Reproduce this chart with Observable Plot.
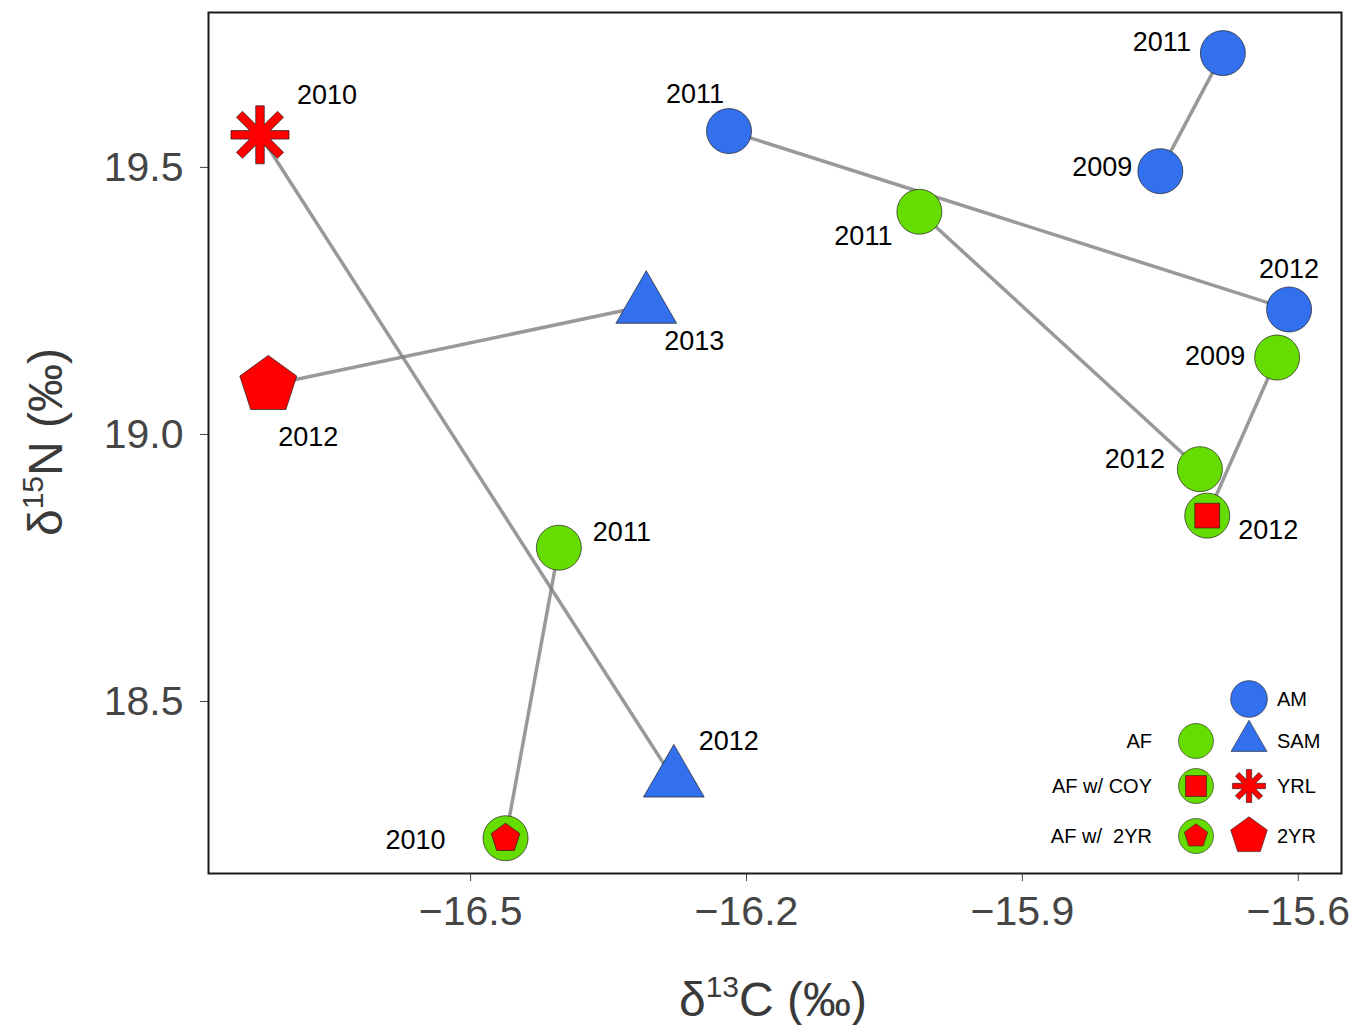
<!DOCTYPE html>
<html>
<head>
<meta charset="utf-8">
<script src="https://cdn.jsdelivr.net/npm/d3@7"></script>
<script src="https://cdn.jsdelivr.net/npm/@observablehq/plot@0.6"></script>
<style>
  html, body { margin: 0; padding: 0; background: #ffffff; }
  #chart { width: 1359px; height: 1025px; }
</style>
</head>
<body>
<div id="chart"></div>
<script>
// ---------------- DATA ----------------
const bear     = ["A", "A", "B", "B", "C", "C", "D", "D", "E", "E", "F", "F", "G", "G"];
const ageClass = ["AM", "AM", "AM", "AM", "AF", "AF", "AF", "AF w/ COY", "YRL", "SAM", "2YR", "SAM", "AF", "AF w/ 2YR"];
const year     = ["2009", "2011", "2011", "2012", "2011", "2012", "2009", "2012", "2010", "2012", "2012", "2013", "2011", "2010"];
const d13C     = [-15.750, -15.682, -16.219, -15.610, -16.012, -15.707, -15.623, -15.699, -16.729, -16.279, -16.720, -16.309, -16.404, -16.462];
const d15N     = [19.493, 19.714, 19.568, 19.234, 19.417, 18.935, 19.144, 18.848, 19.561, 18.354, 19.092, 19.241, 18.788, 18.244];

const classes     = ["AM", "AF", "AF w/ COY", "AF w/ 2YR", "SAM", "YRL", "2YR"];
const classFill   = ["#3370EE", "#66DD00", "#66DD00", "#66DD00", "#3370EE", "#FF0000", "#FF0000"];
const xTicks = [-16.5, -16.2, -15.9, -15.6];
const yTicks = [18.5, 19.0, 19.5];

// ---------------- LAYOUT / STYLE ----------------
const FONT = "'Liberation Sans', Arial, Helvetica, sans-serif";
const R = 22.5;
const OUTLINE = "#1f1f1f";
// pixel nudges for year labels (layout only)
const labelNudge = [
  [-58, -4], [-61, -11], [-34, -37], [0, -40], [-56, 25], [-65, -10], [-62, -1],
  [61, 15], [67, -39], [55, -38], [40, 52], [48, 36], [63, -15], [-90, 2]
];

const points = bear.map((b, i) => ({ bear: b, cls: ageClass[i], year: year[i], x: d13C[i], y: d15N[i] }));

// custom symbols (size = pi r^2)
const rad = size => Math.sqrt(size / Math.PI);
const triangleSym = k => ({ draw(ctx, size) {
  const r = rad(size), s = k * r, h = s * Math.sqrt(3) / 2;
  ctx.moveTo(0, -2 * h / 3); ctx.lineTo(s / 2, h / 3); ctx.lineTo(-s / 2, h / 3); ctx.closePath();
}});
const pentagonSym = k => ({ draw(ctx, size) {
  const Rr = k * rad(size);
  for (let j = 0; j < 5; j++) {
    const a = -Math.PI / 2 + j * 2 * Math.PI / 5;
    const px = Rr * Math.cos(a), py = Rr * Math.sin(a);
    if (j === 0) ctx.moveTo(px, py); else ctx.lineTo(px, py);
  }
  ctx.closePath();
}});
const squareSym = k => ({ draw(ctx, size) {
  const h = k * rad(size);
  ctx.moveTo(-h, -h); ctx.lineTo(h, -h); ctx.lineTo(h, h); ctx.lineTo(-h, h); ctx.closePath();
}});
const circleSym = k => ({ draw(ctx, size) {
  const r = k * rad(size);
  ctx.moveTo(r, 0); ctx.arc(0, 0, r, 0, 2 * Math.PI); ctx.closePath();
}});
const asteriskSym = (kL, kW) => ({ draw(ctx, size) {
  const r = rad(size), L = kL * r, w = kW * r, ri = w / Math.sin(Math.PI / 8);
  for (let k = 0; k < 8; k++) {
    const t = k * Math.PI / 4;
    const c = Math.cos(t), s = Math.sin(t);
    const p1 = [L * c + w * s, L * s - w * c];
    const p2 = [L * c - w * s, L * s + w * c];
    if (k === 0) ctx.moveTo(p1[0], p1[1]); else ctx.lineTo(p1[0], p1[1]);
    ctx.lineTo(p2[0], p2[1]);
    const ti = t + Math.PI / 8;
    ctx.lineTo(ri * Math.cos(ti), ri * Math.sin(ti));
  }
  ctx.closePath();
}});

const isCircle = d => ["AM", "AF", "AF w/ COY", "AF w/ 2YR"].includes(d.cls);
const dotCommon = { x: "x", y: "y", r: R, stroke: OUTLINE, strokeWidth: 0.7 };

const labelMarks = points.map((p, i) => Plot.text([p], {
  x: "x", y: "y", text: "year", dx: labelNudge[i][0], dy: labelNudge[i][1],
  fontSize: 27, fill: "#000000", textAnchor: "middle", lineAnchor: "middle", fontFamily: FONT
}));

const plot = Plot.plot({
  width: 1359,
  height: 1025,
  marginLeft: 208,
  marginRight: 18,
  marginTop: 12,
  marginBottom: 152,
  style: { fontFamily: FONT, fontSize: "41px", color: "#454545", background: "#ffffff" },
  x: { domain: [-16.785, -15.553], ticks: xTicks, tickFormat: d3.format(".1f"), tickSize: 8, tickPadding: 14, label: null },
  y: { domain: [18.178, 19.790], ticks: yTicks, tickFormat: d3.format(".1f"), tickSize: 8, tickPadding: 17, label: null },
  color: { type: "ordinal", domain: classes, range: classFill },
  marks: [
    Plot.line(points, { x: "x", y: "y", z: "bear", stroke: "#808080", strokeOpacity: 0.8, strokeWidth: 3.5 }),
    Plot.dot(points, { ...dotCommon, filter: isCircle, fill: "cls", symbol: "circle" }),
    Plot.dot(points, { ...dotCommon, filter: d => d.cls === "SAM", fill: "cls", symbol: triangleSym(2.7) }),
    Plot.dot(points, { ...dotCommon, filter: d => d.cls === "YRL", fill: "cls", symbol: asteriskSym(1.29, 0.19) }),
    Plot.dot(points, { ...dotCommon, filter: d => d.cls === "2YR", fill: "cls", symbol: pentagonSym(1.33) }),
    Plot.dot(points, { ...dotCommon, filter: d => d.cls === "AF w/ COY", fill: "#FF0000", symbol: squareSym(0.55) }),
    Plot.dot(points, { ...dotCommon, filter: d => d.cls === "AF w/ 2YR", fill: "#FF0000", symbol: pentagonSym(0.67) }),
    ...labelMarks,
    Plot.frame({ stroke: "#1a1a1a", strokeWidth: 2 })
  ]
});

document.getElementById("chart").appendChild(plot);

// ---------------- AXIS TITLES ----------------
const svg = d3.select(plot);
const TITLE_COLOR = "#3a3a3a";

const xt = svg.append("text")
  .attr("x", 773).attr("y", 1016)
  .attr("text-anchor", "middle")
  .attr("font-family", FONT).attr("font-size", 48).attr("fill", TITLE_COLOR);
xt.append("tspan").text("δ");
xt.append("tspan").attr("font-size", 30).attr("dy", -19).text("13");
xt.append("tspan").attr("dy", 19).text("C (‰)");

const yt = svg.append("text")
  .attr("transform", "translate(62,442) rotate(-90)")
  .attr("text-anchor", "middle")
  .attr("font-family", FONT).attr("font-size", 48).attr("fill", TITLE_COLOR);
yt.append("tspan").text("δ");
yt.append("tspan").attr("font-size", 30).attr("dy", -19).text("15");
yt.append("tspan").attr("dy", 19).text("N (‰)");

// ---------------- LEGEND ----------------
const LR = 18;
const legendItems = [
  { label: "AM",          side: "right", row: 0, layers: [[circleSym(1.02), "#3370EE"]] },
  { label: "AF",          side: "left",  row: 1, layers: [[circleSym(0.97), "#66DD00"]] },
  { label: "SAM",         side: "right", row: 1, layers: [[triangleSym(2.0), "#3370EE"]] },
  { label: "AF w/ COY",   side: "left",  row: 2, layers: [[circleSym(0.97), "#66DD00"], [squareSym(0.58), "#FF0000"]] },
  { label: "YRL",         side: "right", row: 2, layers: [[asteriskSym(0.92, 0.15), "#FF0000"]] },
  { label: "AF w/\u00A0 2YR", side: "left",  row: 3, layers: [[circleSym(0.97), "#66DD00"], [pentagonSym(0.68), "#FF0000"]] },
  { label: "2YR",         side: "right", row: 3, layers: [[pentagonSym(1.07), "#FF0000"]] }
];
const rowY = [699, 741, 786, 836];
const colX = { left: 1196, right: 1249 };
const lg = svg.append("g").attr("class", "legend");
legendItems.forEach(item => {
  const cx = colX[item.side], cy = rowY[item.row];
  item.layers.forEach(([sym, fill]) => {
    const p = d3.path();
    sym.draw(p, Math.PI * LR * LR);
    lg.append("path").attr("transform", `translate(${cx},${cy})`).attr("d", p.toString())
      .attr("fill", fill).attr("stroke", OUTLINE).attr("stroke-width", 0.6);
  });
  lg.append("text")
    .attr("x", item.side === "left" ? 1152 : 1277)
    .attr("y", cy).attr("dy", "0.35em")
    .attr("text-anchor", item.side === "left" ? "end" : "start")
    .attr("font-family", FONT).attr("font-size", 20).attr("fill", "#000000")
    .style("white-space", "pre")
    .text(item.label);
});
</script>
</body>
</html>
